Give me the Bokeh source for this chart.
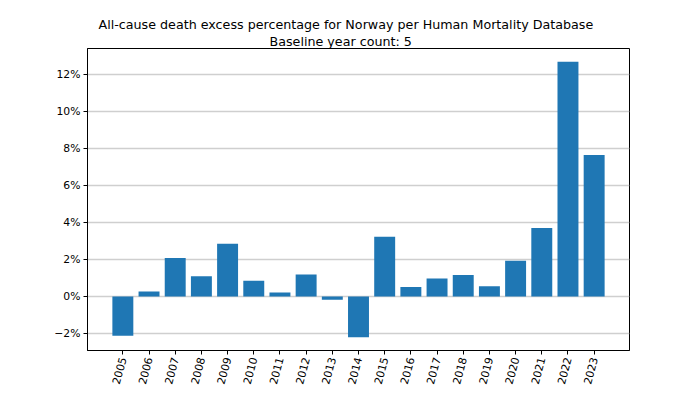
from bokeh.plotting import figure
from bokeh.models import Range1d, FixedTicker, Title, ColumnDataSource
from bokeh.embed import file_html
from bokeh.resources import INLINE
import math

years = [2005, 2006, 2007, 2008, 2009, 2010, 2011, 2012, 2013, 2014,
         2015, 2016, 2017, 2018, 2019, 2020, 2021, 2022, 2023]
excess_pct = [-2.12, 0.27, 2.09, 1.10, 2.86, 0.85, 0.22, 1.19, -0.18, -2.20,
              3.24, 0.52, 0.97, 1.17, 0.56, 1.93, 3.71, 12.70, 7.66]
y_ticks = [-2, 0, 2, 4, 6, 8, 10, 12]
y_tick_labels = ["\u22122%", "0%", "2%", "4%", "6%", "8%", "10%", "12%"]
title_line1 = "All-cause death excess percentage for Norway per Human Mortality Database"
title_line2 = "Baseline year count: 5"

FONT = "DejaVu Sans"

p = figure(width=700, height=394, output_backend="svg", toolbar_location=None,
           x_range=Range1d(2003.65, 2024.35), y_range=Range1d(-2.92, 13.42),
           min_border_left=87, min_border_right=71, min_border_top=48,
           min_border_bottom=44)

p.title.text = title_line1
p.title.align = "left"
p.title.offset = 5
p.title.text_font = FONT
p.title.text_font_size = "12.7px"
p.title.text_font_style = "normal"
p.title.text_color = "black"
p.title.text_line_height = 0.9
p.title.standoff = 0
p.title.padding = (6, 0, 0, 0)
p.add_layout(Title(text=title_line2, align="left", offset=182, text_font=FONT,
                   text_font_size="12.7px", text_font_style="normal",
                   text_line_height=0.9,
                   text_color="black", standoff=0), "above")

src = ColumnDataSource(dict(x=years, top=excess_pct))
p.vbar(x="x", top="top", bottom=0, width=0.8, source=src,
       fill_color="#1f77b4", line_color=None)

p.xgrid.visible = False
p.ygrid.ticker = FixedTicker(ticks=y_ticks)
p.ygrid.grid_line_color = "#cfcfcf"
p.ygrid.grid_line_width = 1.3

p.yaxis.ticker = FixedTicker(ticks=y_ticks)
p.yaxis.major_label_overrides = {t: l for t, l in zip(y_ticks, y_tick_labels)}
p.xaxis.ticker = FixedTicker(ticks=years)
p.xaxis.major_label_orientation = 75 * math.pi / 180

for ax in (p.xaxis, p.yaxis):
    ax.axis_line_color = "black"
    ax.axis_line_width = 1
    ax.major_tick_line_color = "black"
    ax.major_tick_in = 0
    ax.major_tick_out = 4
    ax.minor_tick_line_color = None
    ax.major_label_text_font = FONT
    ax.major_label_text_font_size = "10.8px"
    ax.major_label_text_color = "black"
    ax.major_label_standoff = 3

p.outline_line_color = "black"
p.outline_line_width = 1
p.outline_line_alpha = 1
p.background_fill_color = "white"
p.border_fill_color = "white"

open("out.html", "w").write(file_html(p, INLINE))
